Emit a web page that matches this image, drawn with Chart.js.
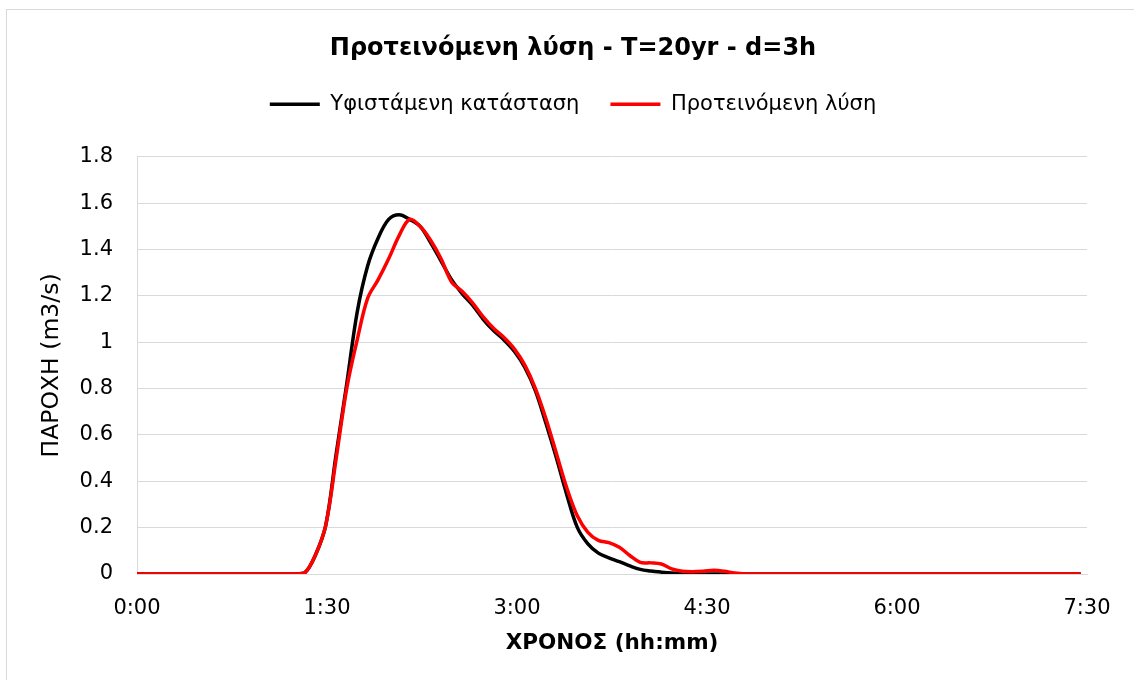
<!DOCTYPE html>
<html>
<head>
<meta charset="utf-8">
<script src="https://cdn.jsdelivr.net/npm/chart.js@4.4.1/dist/chart.umd.min.js"></script>
<style>
  html, body { margin: 0; padding: 0; background: #ffffff; }
  #wrap { width: 1134px; height: 680px; position: relative; }
</style>
</head>
<body>
<div id="wrap"><canvas id="c" width="1134" height="680"></canvas></div>
<script>
const chartTitle = 'Προτεινόμενη λύση - T=20yr - d=3h';
const seriesNames = ['Υφιστάμενη κατάσταση', 'Προτεινόμενη λύση'];
const xAxisTitle = 'ΧΡΟΝΟΣ (hh:mm)';
const yAxisTitle = 'ΠΑΡΟΧΗ (m3/s)';
const xTickLabels = ['0:00', '1:30', '3:00', '4:30', '6:00', '7:30'];

// time in minutes
const minutes = [
  0, 5, 10, 15, 20, 25, 30, 35, 40, 45, 50, 55, 60, 65, 70, 75,
  80, 85, 90, 95, 100, 105, 110, 115, 120, 125, 130, 135, 140, 145, 150, 155,
  160, 165, 170, 175, 180, 185, 190, 195, 200, 205, 210, 215, 220, 225, 230, 235,
  240, 245, 250, 255, 260, 265, 270, 275, 280, 285, 290, 295, 300, 305, 310, 315,
  320, 325, 330, 335, 340, 345, 350, 355, 360, 365, 370, 375, 380, 385, 390, 395,
  400, 405, 410, 415, 420, 425, 430, 435, 440, 445, 450
];

const existing = [
  0, 0, 0, 0, 0, 0, 0, 0, 0, 0, 0, 0, 0, 0, 0, 0,
  0.005, 0.08, 0.21, 0.52, 0.82, 1.13, 1.33, 1.45, 1.53, 1.55, 1.53, 1.50, 1.43, 1.35, 1.27, 1.21,
  1.16, 1.10, 1.05, 1.01, 0.96, 0.89, 0.79, 0.65, 0.50, 0.34, 0.20, 0.13, 0.09, 0.07, 0.053, 0.035,
  0.02, 0.013, 0.008, 0.004, 0.002, 0, 0, 0, 0, 0, 0, 0, 0, 0, 0, 0,
  0, 0, 0, 0, 0, 0, 0, 0, 0, 0, 0, 0, 0, 0, 0, 0,
  0, 0, 0, 0, 0, 0, 0, 0, 0, 0, 0
];

const proposed = [
  0, 0, 0, 0, 0, 0, 0, 0, 0, 0, 0, 0, 0, 0, 0, 0,
  0.005, 0.08, 0.21, 0.50, 0.80, 1.01, 1.19, 1.27, 1.36, 1.46, 1.53, 1.50, 1.44, 1.36, 1.26, 1.22,
  1.17, 1.11, 1.06, 1.02, 0.97, 0.90, 0.80, 0.67, 0.52, 0.37, 0.25, 0.18, 0.145, 0.135, 0.115, 0.08,
  0.05, 0.048, 0.043, 0.022, 0.012, 0.01, 0.012, 0.016, 0.012, 0.004, 0, 0, 0, 0,
  0, 0, 0, 0, 0, 0, 0, 0, 0, 0, 0, 0, 0, 0, 0, 0,
  0, 0, 0, 0, 0, 0, 0, 0, 0, 0, 0, 0, 0
];

const toPoints = (vals) => minutes.map((m, i) => ({ x: m, y: vals[i] }));

const FONT = "'DejaVu Sans', sans-serif";

const frame = {
  id: 'frame',
  beforeDraw(chart) {
    const ctx = chart.ctx;
    ctx.save();
    ctx.fillStyle = '#ffffff';
    ctx.fillRect(0, 0, chart.width, chart.height);
    ctx.strokeStyle = '#d9d9d9';
    ctx.lineWidth = 1;
    ctx.strokeRect(6.5, 9.5, 2000, 2000);
    ctx.restore();
  }
};

new Chart(document.getElementById('c'), {
  type: 'line',
  data: {
    datasets: [
      {
        label: seriesNames[0],
        data: toPoints(existing),
        borderColor: '#000000',
        backgroundColor: '#000000',
        borderWidth: 3.5,
        pointRadius: 0,
        tension: 0.35,
        order: 1
      },
      {
        label: seriesNames[1],
        data: toPoints(proposed),
        borderColor: '#ff0000',
        backgroundColor: '#ff0000',
        borderWidth: 3.5,
        pointRadius: 0,
        tension: 0.35,
        order: 0
      }
    ]
  },
  options: {
    responsive: false,
    animation: false,
    events: [],
    layout: { padding: { left: 12, right: 0, top: 0, bottom: 0 } },
    plugins: {
      title: {
        display: true,
        text: chartTitle,
        color: '#000000',
        font: { family: FONT, size: 24, weight: 'bold', lineHeight: 1.2 },
        padding: { top: 34, bottom: 0 }
      },
      subtitle: {
        display: true,
        text: '',
        weight: 500,
        font: { family: FONT, size: 10, lineHeight: 1 },
        padding: { top: 22, bottom: 0 }
      },
      legend: {
        display: true,
        position: 'top',
        labels: {
          color: '#000000',
          font: { family: FONT, size: 21 },
          usePointStyle: true,
          pointStyle: 'line',
          pointStyleWidth: 50,
          padding: 31,
          sort: (a, b) => a.datasetIndex - b.datasetIndex
        }
      },
      tooltip: { enabled: false }
    },
    scales: {
      x: {
        type: 'linear',
        min: 0,
        max: 453,
        afterFit(scale) { scale.height = 106; },
        ticks: {
          stepSize: 90,
          includeBounds: false,
          autoSkip: false,
          maxRotation: 0,
          padding: 21.5,
          color: '#000000',
          font: { family: FONT, size: 21 },
          callback: (v) => xTickLabels[Math.round(v / 90)]
        },
        grid: { display: false, drawTicks: false },
        border: { display: true, color: '#d9d9d9', width: 1 },
        title: {
          display: true,
          text: xAxisTitle,
          color: '#000000',
          font: { family: FONT, size: 21.5, weight: 'bold', lineHeight: 1.2 },
          padding: { top: 0, bottom: 24 }
        }
      },
      y: {
        min: 0,
        max: 1.8,
        afterFit(scale) { scale.width = 125; },
        ticks: {
          stepSize: 0.2,
          padding: 24,
          color: '#000000',
          font: { family: FONT, size: 21 },
          callback: (v) => String(Math.round(v * 10) / 10)
        },
        grid: { color: '#d9d9d9', lineWidth: 1, drawTicks: false },
        border: { display: true, color: '#d9d9d9', width: 1 },
        title: {
          display: true,
          text: yAxisTitle,
          color: '#000000',
          font: { family: FONT, size: 23.5, lineHeight: 1.2 },
          padding: { top: 26, bottom: 0 }
        }
      },
      y2: {
        position: 'right',
        display: true,
        min: 0,
        max: 1,
        afterFit(scale) { scale.width = 47; },
        ticks: { display: false },
        grid: { display: false, drawTicks: false },
        border: { display: false }
      }
    }
  },
  plugins: [frame]
});
</script>
</body>
</html>
